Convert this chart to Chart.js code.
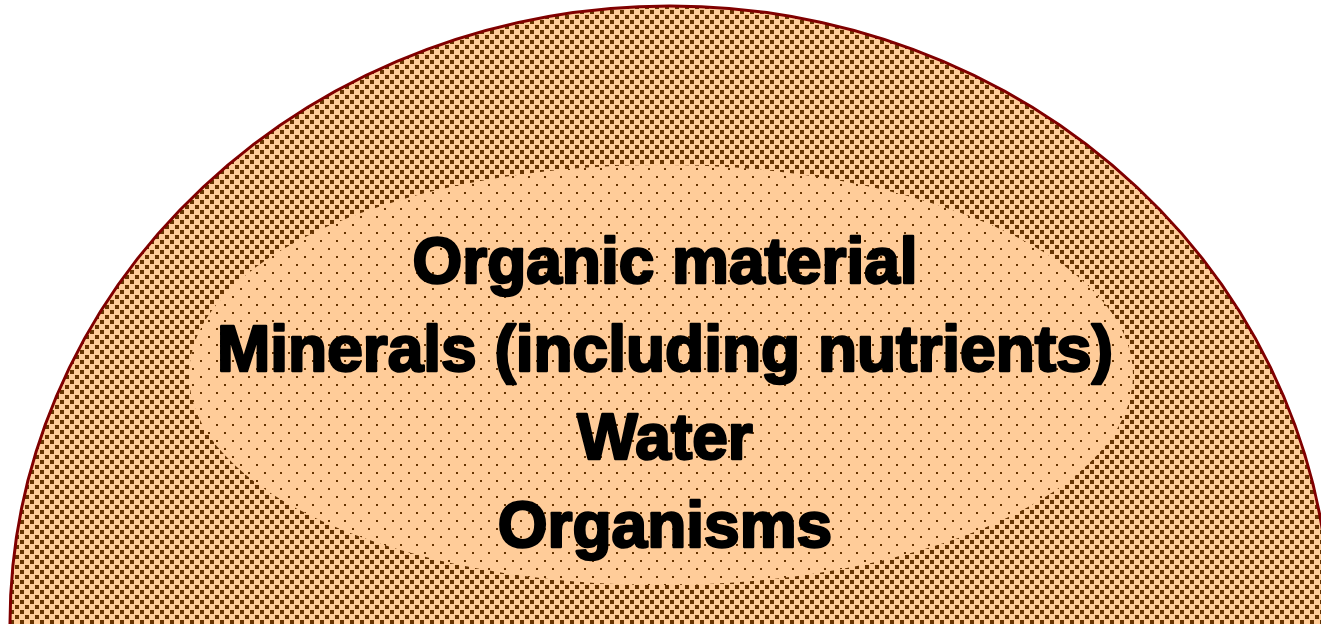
<!DOCTYPE html>
<html>
<head>
<meta charset="utf-8">
<script src="https://cdn.jsdelivr.net/npm/chart.js@4/dist/chart.umd.min.js"></script>
<style>
  html, body { margin: 0; padding: 0; background: #fff; }
  #wrap { width: 1321px; height: 624px; }
</style>
</head>
<body>
<div id="wrap"><canvas id="soilChart"></canvas></div>
<script>
// Soil components diagram
const itemLabels = ['Organic material', 'Minerals (including nutrients)', 'Water', 'Organisms'];
const itemX = [665, 665, 665, 665];
const itemY = [283, 371, 459, 547];

// outer soil body, inner "contents" ellipse
const regionNames = ['Soil', 'Contents'];
const regionCX = [670, 661];
const regionCY = [624, 375];
const regionRX = [660, 472];
const regionRY = [618, 210];

function makePattern(size, rects) {
    const c = document.createElement('canvas');
    c.width = size; c.height = size;
    const g = c.getContext('2d');
    g.fillStyle = '#FFCC99';
    g.fillRect(0, 0, size, size);
    g.fillStyle = '#663300';
    rects.forEach(r => g.fillRect(r[0], r[1], r[2], r[3]));
    return c;
}

const outerTile = makePattern(10, [[0, 0, 4, 4], [5, 5, 4, 4]]);
const innerTile = makePattern(16, [[0, 0, 2, 2], [8, 8, 2, 2]]);

const soilPlugin = {
    id: 'soilPlugin',
    beforeDatasetsDraw(chart) {
        const ctx = chart.ctx;
        const xs = chart.scales.x, ys = chart.scales.y;
        regionNames.forEach((name, i) => {
            const cx = xs.getPixelForValue(regionCX[i]);
            const cy = ys.getPixelForValue(regionCY[i]);
            const rx = Math.abs(xs.getPixelForValue(regionCX[i] + regionRX[i]) - cx);
            const ry = Math.abs(ys.getPixelForValue(regionCY[i] + regionRY[i]) - cy);
            ctx.save();
            ctx.beginPath();
            ctx.ellipse(cx, cy, rx, ry, 0, 0, Math.PI * 2);
            ctx.fillStyle = ctx.createPattern(i === 0 ? outerTile : innerTile, 'repeat');
            ctx.fill();
            if (i === 0) {
                ctx.lineWidth = 3;
                ctx.strokeStyle = '#800000';
                ctx.stroke();
            }
            ctx.restore();
        });
    },
    afterDatasetsDraw(chart) {
        const ctx = chart.ctx;
        const xs = chart.scales.x, ys = chart.scales.y;
        ctx.save();
        ctx.font = 'bold 64px "Liberation Sans", Arial, sans-serif';
        ctx.textAlign = 'center';
        ctx.textBaseline = 'alphabetic';
        ctx.fillStyle = '#000';
        ctx.strokeStyle = '#000';
        ctx.lineWidth = 2.5;
        ctx.lineJoin = 'round';
        itemLabels.forEach((t, i) => {
            const px = xs.getPixelForValue(itemX[i]);
            const py = ys.getPixelForValue(itemY[i]);
            ctx.strokeText(t, px, py);
            ctx.fillText(t, px, py);
        });
        ctx.restore();
    }
};

new Chart(document.getElementById('soilChart'), {
    type: 'scatter',
    data: {
        datasets: [{
            label: 'Components',
            data: itemLabels.map((t, i) => ({ x: itemX[i], y: itemY[i] })),
            pointRadius: 0,
            pointHoverRadius: 0
        }]
    },
    options: {
        responsive: true,
        maintainAspectRatio: false,
        animation: false,
        layout: { padding: 0 },
        scales: {
            x: { type: 'linear', min: 0, max: 1321, display: false },
            y: { type: 'linear', min: 0, max: 624, reverse: true, display: false }
        },
        plugins: {
            legend: { display: false },
            tooltip: { enabled: false }
        }
    },
    plugins: [soilPlugin]
});
</script>
</body>
</html>
